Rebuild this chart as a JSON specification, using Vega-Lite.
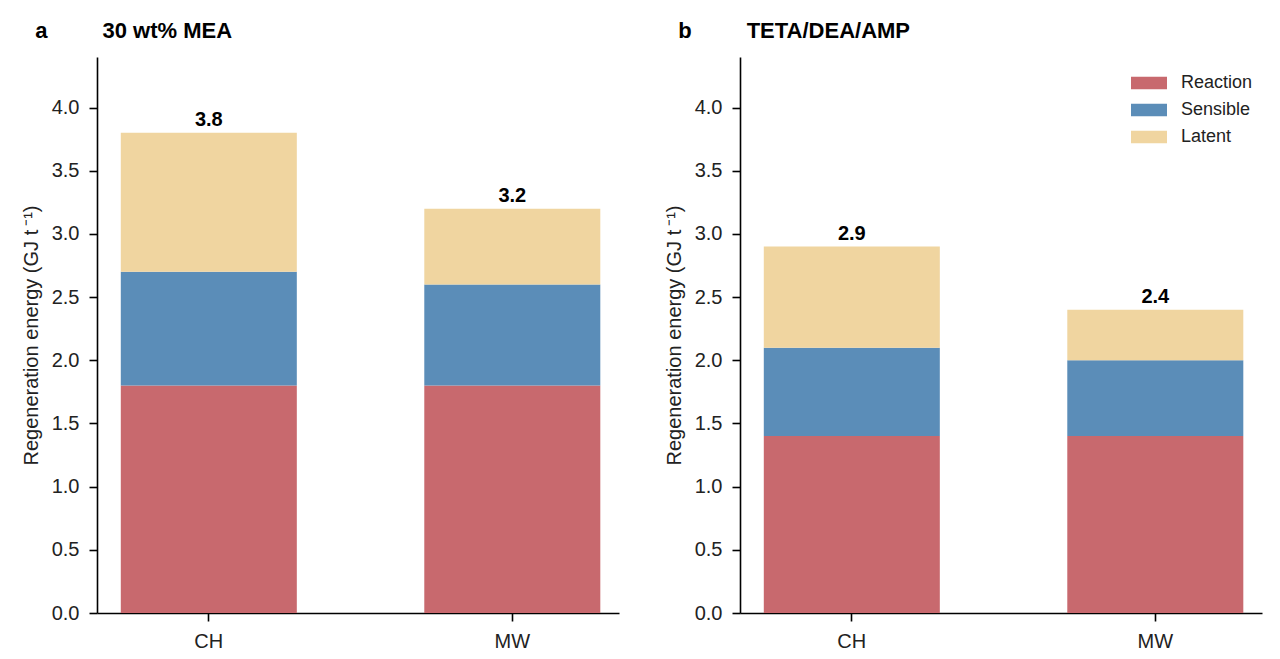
{
  "$schema": "https://vega.github.io/schema/vega-lite/v6.json",
  "padding": {"left": 21, "top": 20, "right": 8, "bottom": 5},
  "background": "white",
  "config": {
    "font": "Liberation Sans",
    "view": {"stroke": null},
    "axis": {
      "grid": false,
      "domainColor": "black",
      "domainWidth": 1.6,
      "tickColor": "black",
      "tickWidth": 1.6,
      "tickSize": 8,
      "labelFont": "Liberation Sans",
      "labelFontSize": 20,
      "labelColor": "#222222",
      "titleFont": "Liberation Sans",
      "titleFontSize": 20,
      "titleFontWeight": "normal",
      "titleColor": "#222222"
    },
    "title": {"font": "Liberation Sans", "fontSize": 22, "fontWeight": "bold", "anchor": "start", "frame": "bounds", "color": "black", "offset": 14},
    "concat": {"spacing": 45}
  },
  "resolve": {"scale": {"color": "independent"}, "legend": {"color": "independent"}},
  "data": {
    "values": [
      {"solvent": "MEA", "method": "CH", "part": "Reaction", "order": 1, "value": 1.8},
      {"solvent": "MEA", "method": "CH", "part": "Sensible", "order": 2, "value": 0.9},
      {"solvent": "MEA", "method": "CH", "part": "Latent", "order": 3, "value": 1.1},
      {"solvent": "MEA", "method": "MW", "part": "Reaction", "order": 1, "value": 1.8},
      {"solvent": "MEA", "method": "MW", "part": "Sensible", "order": 2, "value": 0.8},
      {"solvent": "MEA", "method": "MW", "part": "Latent", "order": 3, "value": 0.6},
      {"solvent": "TETA", "method": "CH", "part": "Reaction", "order": 1, "value": 1.4},
      {"solvent": "TETA", "method": "CH", "part": "Sensible", "order": 2, "value": 0.7},
      {"solvent": "TETA", "method": "CH", "part": "Latent", "order": 3, "value": 0.8},
      {"solvent": "TETA", "method": "MW", "part": "Reaction", "order": 1, "value": 1.4},
      {"solvent": "TETA", "method": "MW", "part": "Sensible", "order": 2, "value": 0.6},
      {"solvent": "TETA", "method": "MW", "part": "Latent", "order": 3, "value": 0.4}
    ]
  },
  "hconcat": [
    {
      "title": {"text": "a\u00a0\u00a0\u00a0\u00a0\u00a0\u00a0\u00a0\u00a0\u00a030 wt% MEA", "dx": 14},
      "width": 522,
      "height": 556,
      "transform": [{"filter": "datum.solvent == 'MEA'"}],
      "encoding": {
        "x": {
          "field": "method",
          "type": "nominal",
          "sort": ["CH", "MW"],
          "scale": {"paddingInner": 0.42, "paddingOuter": 0.07, "align": 0.56},
          "axis": {"title": null, "labelAngle": 0, "labelPadding": 10}
        }
      },
      "layer": [
        {
          "mark": {"type": "bar"},
          "encoding": {
            "y": {
              "field": "value",
              "type": "quantitative",
              "aggregate": "sum",
              "stack": "zero",
              "scale": {"domain": [0, 4.4], "nice": false},
              "axis": {"title": "Regeneration energy (GJ t\u2009⁻¹)", "values": [0, 0.5, 1, 1.5, 2, 2.5, 3, 3.5, 4], "format": ".1f", "titlePadding": 10, "labelPadding": 10}
            },
            "color": {
              "field": "part",
              "type": "nominal",
              "scale": {"domain": ["Reaction", "Sensible", "Latent"], "range": ["#c8696e", "#5b8db8", "#f0d5a0"]},
              "legend": null
            },
            "order": {"field": "order", "type": "quantitative"}
          }
        },
        {
          "mark": {"type": "text", "fontWeight": "bold", "fontSize": 20, "baseline": "bottom", "dy": -3, "color": "black"},
          "encoding": {
            "y": {"field": "value", "type": "quantitative", "aggregate": "sum"},
            "text": {"field": "value", "type": "quantitative", "aggregate": "sum", "format": ".1f"}
          }
        }
      ]
    },
    {
      "title": {"text": "b\u00a0\u00a0\u00a0\u00a0\u00a0\u00a0\u00a0\u00a0\u00a0TETA/DEA/AMP", "dx": 14},
      "width": 522,
      "height": 556,
      "transform": [{"filter": "datum.solvent == 'TETA'"}],
      "encoding": {
        "x": {
          "field": "method",
          "type": "nominal",
          "sort": ["CH", "MW"],
          "scale": {"paddingInner": 0.42, "paddingOuter": 0.07, "align": 0.56},
          "axis": {"title": null, "labelAngle": 0, "labelPadding": 10}
        }
      },
      "layer": [
        {
          "mark": {"type": "bar"},
          "encoding": {
            "y": {
              "field": "value",
              "type": "quantitative",
              "aggregate": "sum",
              "stack": "zero",
              "scale": {"domain": [0, 4.4], "nice": false},
              "axis": {"title": "Regeneration energy (GJ t\u2009⁻¹)", "values": [0, 0.5, 1, 1.5, 2, 2.5, 3, 3.5, 4], "format": ".1f", "titlePadding": 10, "labelPadding": 10}
            },
            "color": {
              "field": "part",
              "type": "nominal",
              "scale": {"domain": ["Reaction", "Sensible", "Latent"], "range": ["#c8696e", "#5b8db8", "#f0d5a0"]},
              "legend": {
                "title": null,
                "orient": "none",
                "legendX": 391,
                "legendY": 8,
                "symbolType": "M-1,-0.35H1V0.35H-1Z",
                "symbolSize": 1296,
                "symbolStrokeWidth": 0,
                "symbolOpacity": 1,
                "labelFontSize": 18,
                "labelColor": "#222222",
                "labelFont": "Liberation Sans",
                "labelOffset": 14,
                "rowPadding": -2
              }
            },
            "order": {"field": "order", "type": "quantitative"}
          }
        },
        {
          "mark": {"type": "text", "fontWeight": "bold", "fontSize": 20, "baseline": "bottom", "dy": -3, "color": "black"},
          "encoding": {
            "y": {"field": "value", "type": "quantitative", "aggregate": "sum"},
            "text": {"field": "value", "type": "quantitative", "aggregate": "sum", "format": ".1f"}
          }
        }
      ]
    }
  ]
}
